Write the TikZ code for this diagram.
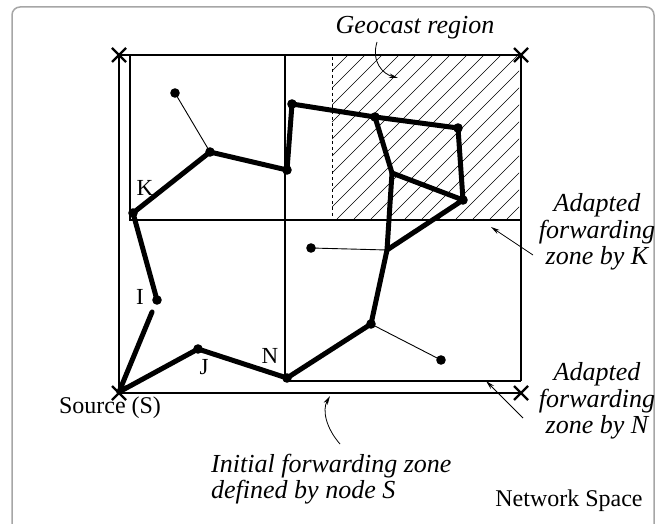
\documentclass[tikz,border=0pt]{standalone}
\usepackage{fontspec}
\setmainfont{Liberation Serif}
\usetikzlibrary{arrows.meta}
\tikzset{
  zoneline/.style={line width=2.6pt},
  hop/.style={line width=5pt, line cap=round, line join=round},
  weak/.style={line width=0.9pt},
  hatchline/.style={line width=0.6pt},
  pointer/.style={line width=0.8pt, -{Stealth[length=9pt,width=4.5pt]}},
  crossmark/.style={line width=2.4pt},
  uplabel/.style={font=\fontsize{23}{26}\selectfont, inner sep=0pt},
  bigup/.style={font=\fontsize{24}{26}\selectfont, inner sep=0pt},
  itlabel/.style={font=\fontsize{26}{26.5}\selectfont\itshape, inner sep=0pt, align=center},
}
\begin{document}
\begin{tikzpicture}[x=1pt,y=-1pt]
\useasboundingbox (0,0) rectangle (664,524);
% outer frame
\draw[gray!70, line width=1.5pt, rounded corners=8pt] (12,7) rectangle (654,545);

% zone corners
\coordinate (TL) at (119,55);
\coordinate (TR) at (521,55);
\coordinate (BL) at (119,393);
\coordinate (BR) at (521,393);
\coordinate (KT) at (130,55);
\coordinate (KB) at (130,220);
\coordinate (KR) at (521,220);
\coordinate (NT) at (285,55);
\coordinate (NB) at (285,381);
\coordinate (NR) at (521,381);

% hatched geocast region
\begin{scope}
\clip (332,55) rectangle (519,219);
\foreach \x in {150,167,...,540} \draw[hatchline] (\x,219) -- ++(170,-170);
\end{scope}
\draw[weak, dashed, line width=0.6pt] (332,57) -- (332,217);

% zone lines
\draw[zoneline] (TL) -- (TR) -- (NR);
\draw[zoneline] (TL) -- (BL) -- (BR);
\draw[zoneline] (KT) -- (KB) -- (KR);
\draw[zoneline] (NT) -- (NB) -- (NR);

% cross marks
\foreach \c in {TL,TR,BL,BR}{
  \draw[crossmark] ([shift={(-7,-7)}]\c) -- ([shift={(7,7)}]\c);
  \draw[crossmark] ([shift={(-7,7)}]\c) -- ([shift={(7,-7)}]\c);
}

% network nodes
\coordinate (S) at (119,392);
\coordinate (I) at (157,300);
\coordinate (J) at (198,349);
\coordinate (K) at (133,213);
\coordinate (N) at (287,378);
\coordinate (A) at (175,93);
\coordinate (B) at (210,152);
\coordinate (C) at (287,170);
\coordinate (D) at (292,104);
\coordinate (E) at (375,117);
\coordinate (F) at (458,128);
\coordinate (G) at (463,200);
\coordinate (H) at (392,173);
\coordinate (Q) at (387,250);
\coordinate (P) at (371,324);
\coordinate (L) at (311,248);
\coordinate (R) at (441,360);

% thin links
\draw[weak] (A) -- (B);
\draw[weak] (L) -- (Q);
\draw[weak] (P) -- (R);

% forwarding path
\draw[hop, shorten >=13pt] (S) -- (I);
\draw[hop] (S) -- (J) -- (N) -- (P) -- (Q) -- (H) -- (E);
\draw[hop] (I) -- (K) -- (B) -- (C) -- (D) -- (E) -- (F) -- (G) -- (H);
\draw[hop] (G) -- (Q);

% dots
\foreach \p in {I,J,K,N,A,B,C,D,E,F,G,P,L,R}
  \fill (\p) circle (4.8pt);

% node labels
\node[uplabel] (lK) at (145,188) {K};
\node[uplabel] (lI) at (140,297) {I};
\node[uplabel] (lJ) at (204,367) {J};
\node[uplabel] (lN) at (270,356) {N};
\node[bigup] (lS) at (110,408) {Source (S)};
\node[bigup] (lNS) at (569,501) {Network Space};

% annotations
\node[itlabel] (geo) at (415,28) {Geocast region};
\node[itlabel] (adK) at (597,232) {Adapted\\forwarding\\zone by K};
\node[itlabel] (adN) at (597,401) {Adapted\\forwarding\\zone by N};
\node[itlabel, align=left, anchor=west] (ini) at (211,479) {Initial forwarding zone\\defined by node S};

\coordinate (geoS) at (377,42);
\coordinate (geoE) at (398,78);
\draw[pointer] (geoS) .. controls (371,62) and (383,74) .. (geoE);
\coordinate (kS) at (533,255);
\coordinate (kE) at (491,227);
\draw[pointer] (kS) -- (kE);
\coordinate (nS) at (523,418);
\coordinate (nE) at (486,381);
\draw[pointer] (nS) -- (nE);
\coordinate (iS) at (340,444);
\coordinate (iE) at (330,396);
\draw[pointer] (iS) .. controls (326,428) and (322,410) .. (iE);
\end{tikzpicture}
\end{document}
